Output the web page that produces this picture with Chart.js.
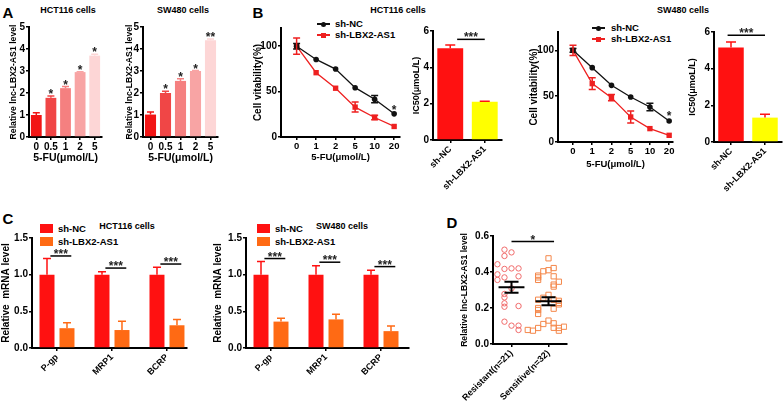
<!DOCTYPE html>
<html>
<head>
<meta charset="utf-8">
<script src="https://cdn.jsdelivr.net/npm/chart.js@4.4.1/dist/chart.umd.min.js"></script>
<style>
  body { margin: 0; background: #fff; }
  #fig { position: relative; width: 784px; height: 406px; overflow: hidden;
         font-family: "Liberation Sans", Arial, sans-serif; font-weight: bold; color: #000; }
  #fig canvas { position: absolute; }
  .t { position: absolute; white-space: nowrap; transform: translate(-50%, -50%); font-size: 9px; line-height: 1; }
  .letter { font-size: 15px; }
  .lg { position: absolute; white-space: nowrap; font-size: 9.5px; line-height: 1; transform: translateY(-50%); }
  .mk { position: absolute; }
</style>
</head>
<body>
<div id="fig">
  <div class="t letter" style="left:8px;top:12px">A</div>
  <div class="t" style="left:68px;top:10px">HCT116 cells</div>
  <div class="t" style="left:183px;top:10px">SW480 cells</div>
  <div class="t letter" style="left:258px;top:12px">B</div>
  <div class="t" style="left:398px;top:10px">HCT116 cells</div>
  <div class="t" style="left:683px;top:10px">SW480 cells</div>
  <div class="t letter" style="left:8px;top:218px">C</div>
  <div class="t" style="left:127px;top:226px">HCT116 cells</div>
  <div class="t" style="left:342px;top:226px">SW480 cells</div>
  <div class="t letter" style="left:452px;top:222px">D</div>

  <!-- B legends -->
  <div class="mk" style="left:317px;top:23.25px;width:13px;height:1.5px;background:#111"></div>
  <div class="mk" style="left:321px;top:21.5px;width:5px;height:5px;border-radius:50%;background:#111"></div>
  <div class="lg" style="left:335px;top:24px">sh-NC</div>
  <div class="mk" style="left:317px;top:34.25px;width:13px;height:1.5px;background:#ee2020"></div>
  <div class="mk" style="left:321px;top:32.5px;width:5px;height:5px;background:#ee2020"></div>
  <div class="lg" style="left:335px;top:35px">sh-LBX2-AS1</div>

  <div class="mk" style="left:592px;top:27.25px;width:13px;height:1.5px;background:#111"></div>
  <div class="mk" style="left:596px;top:25.5px;width:5px;height:5px;border-radius:50%;background:#111"></div>
  <div class="lg" style="left:611px;top:28px">sh-NC</div>
  <div class="mk" style="left:592px;top:38.25px;width:13px;height:1.5px;background:#ee2020"></div>
  <div class="mk" style="left:596px;top:36.5px;width:5px;height:5px;background:#ee2020"></div>
  <div class="lg" style="left:611px;top:39px">sh-LBX2-AS1</div>

  <!-- C legends -->
  <div class="mk" style="left:40px;top:224px;width:13px;height:9px;background:#ff1111"></div>
  <div class="lg" style="left:58px;top:228.5px">sh-NC</div>
  <div class="mk" style="left:40px;top:237px;width:13px;height:9px;background:#ff6a14"></div>
  <div class="lg" style="left:58px;top:241.5px">sh-LBX2-AS1</div>
  <div class="mk" style="left:257px;top:224px;width:13px;height:9px;background:#ff1111"></div>
  <div class="lg" style="left:275px;top:228.5px">sh-NC</div>
  <div class="mk" style="left:257px;top:237px;width:13px;height:9px;background:#ff6a14"></div>
  <div class="lg" style="left:275px;top:241.5px">sh-LBX2-AS1</div>

  <canvas id="a1"></canvas>
  <canvas id="a2"></canvas>
  <canvas id="b1"></canvas>
  <canvas id="b1ic"></canvas>
  <canvas id="b2"></canvas>
  <canvas id="b2ic"></canvas>
  <canvas id="c1"></canvas>
  <canvas id="c2"></canvas>
  <canvas id="d"></canvas>
</div>

<script>
const FONT = '"Liberation Sans", Arial, sans-serif';

// ---- A: lnc-LBX2-AS1 level vs 5-FU dose ----
const doseA = ['0', '0.5', '1', '2', '5'];
const hctLevel = [1.0, 1.78, 2.22, 2.95, 3.7];
const hctLevelErr = [0.1, 0.08, 0.07, 0.02, 0.06];
const hctStars = ['', '*', '*', '*', '*'];
const swLevel = [1.02, 2.0, 2.55, 3.0, 4.4];
const swLevelErr = [0.12, 0.08, 0.1, 0.02, 0.05];
const swStars = ['', '*', '*', '*', '**'];
const doseColors = ['#f21515', '#f04646', '#f58080', '#f8a4a4', '#fdd6d6'];

// ---- B: cell viability and IC50 ----
const doseB = ['0', '1', '2', '5', '10', '20'];
const hctNC = [100, 85.4, 74.8, 54.3, 41.6, 25.5];
const hctNCErr = [3, 0, 0, 0, 4, 0];
const hctKD = [100, 70.8, 53.7, 32.9, 21.5, 11.6];
const hctKDErr = [9, 0, 0, 5.5, 2.5, 0];
const swNC = [100, 81.1, 61.8, 49.1, 38.2, 22.9];
const swNCErr = [2, 0, 0, 0, 4, 0];
const swKD = [100, 63.7, 48.4, 27.3, 14.6, 7.3];
const swKDErr = [5.5, 6.5, 3.5, 6.5, 0, 0];
const groups = ['sh-NC', 'sh-LBX2-AS1'];
const hctIC50 = [5.05, 2.1];
const hctIC50Err = [0.18, 0.03];
const swIC50 = [5.15, 1.33];
const swIC50Err = [0.3, 0.18];

// ---- C: drug resistance genes ----
const genes = ['P-gp', 'MRP1', 'BCRP'];
const hctMdrNC = [1.0, 1.0, 1.0];
const hctMdrNCErr = [0.22, 0.04, 0.1];
const hctMdrKD = [0.27, 0.245, 0.31];
const hctMdrKDErr = [0.075, 0.12, 0.08];
const hctSig = [1.255, 1.09, 1.145];
const swMdrNC = [1.0, 1.0, 1.0];
const swMdrNCErr = [0.18, 0.12, 0.06];
const swMdrKD = [0.36, 0.39, 0.23];
const swMdrKDErr = [0.045, 0.07, 0.07];
const swSig = [1.22, 1.17, 1.11];

// ---- D: patient samples ----
const dGroups = ['Resistant(n=21)', 'Sensitive(n=32)'];
const resistant = [0.509, 0.489, 0.524, 0.42, 0.417, 0.42, 0.443, 0.387, 0.37, 0.376, 0.356,
  0.309, 0.278, 0.259, 0.226, 0.207, 0.211, 0.102, 0.124, 0.102, 0.078];
const sensitive = [0.476, 0.41, 0.404, 0.422, 0.376, 0.38, 0.37, 0.356, 0.346, 0.33, 0.319,
  0.273, 0.257, 0.246, 0.246, 0.24, 0.228, 0.22, 0.196, 0.2, 0.189, 0.167, 0.13, 0.111,
  0.115, 0.09, 0.089, 0.089, 0.096, 0.074, 0.074, 0.078];

const RED = '#ff1111', ORANGE = '#ff6a14', YELLOW = '#ffff00', LRED = '#ee2020', BLACK = '#111';

// error bars, drawn from dataset.errors
const errorBars = {
  id: 'errorBars',
  afterDatasetsDraw(chart) {
    const ctx = chart.ctx, y = chart.scales.y;
    chart.data.datasets.forEach((ds, di) => {
      if (!ds.errors) return;
      chart.getDatasetMeta(di).data.forEach((el, i) => {
        const e = ds.errors[i];
        if (!e) return;
        const raw = ds.data[i];
        const v = typeof raw === 'number' ? raw : raw.y;
        const top = y.getPixelForValue(v + e);
        const bot = ds.oneSided ? el.y : y.getPixelForValue(v - e);
        const half = ds.capWidth / 2;
        ctx.save();
        ctx.strokeStyle = ds.errorColor || (Array.isArray(ds.backgroundColor) ? ds.backgroundColor[i] : ds.borderColor);
        ctx.lineWidth = 1.5;
        ctx.beginPath();
        ctx.moveTo(el.x, bot); ctx.lineTo(el.x, top);
        ctx.moveTo(el.x - half, top); ctx.lineTo(el.x + half, top);
        if (!ds.oneSided) { ctx.moveTo(el.x - half, bot); ctx.lineTo(el.x + half, bot); }
        ctx.stroke();
        ctx.restore();
      });
    });
  }
};

// significance stars / bars
function sigMarks(marks) {
  return {
    id: 'sigMarks',
    afterDatasetsDraw(chart) {
      const {ctx, scales: {x, y}} = chart;
      ctx.save();
      ctx.fillStyle = '#222';
      ctx.strokeStyle = '#000';
      ctx.lineWidth = 1.5;
      ctx.font = 'bold 12px ' + FONT;
      ctx.textAlign = 'center';
      ctx.textBaseline = 'alphabetic';
      marks.forEach(m => {
        if (!m.text) return;
        const py = y.getPixelForValue(m.y);
        let px = x.getPixelForValue(m.x1);
        if (m.x2 !== undefined) {
          const px2 = x.getPixelForValue(m.x2);
          ctx.beginPath(); ctx.moveTo(px, py); ctx.lineTo(px2, py); ctx.stroke();
          px = (px + px2) / 2;
        }
        ctx.fillText(m.text, px, py + 2);
      });
      ctx.restore();
    }
  };
}

function meanSem(vals) {
  const n = vals.length;
  const mean = vals.reduce((s, v) => s + v, 0) / n;
  const sd = Math.sqrt(vals.reduce((s, v) => s + (v - mean) ** 2, 0) / (n - 1));
  return {mean, sem: sd / Math.sqrt(n)};
}

// mean +/- SEM lines for the scatter
const dSummary = {
  id: 'dSummary',
  afterDatasetsDraw(chart) {
    const {ctx, scales: {x, y}} = chart;
    ctx.save();
    ctx.strokeStyle = '#000';
    ctx.lineWidth = 2;
    [resistant, sensitive].forEach((vals, i) => {
      const {mean, sem} = meanSem(vals);
      const cx = x.getPixelForValue(i);
      const wm = x.getPixelForValue(i + 0.35) - cx;
      const wc = x.getPixelForValue(i + 0.19) - cx;
      const ym = y.getPixelForValue(mean), yt = y.getPixelForValue(mean + sem), yb = y.getPixelForValue(mean - sem);
      ctx.beginPath();
      ctx.moveTo(cx - wm, ym); ctx.lineTo(cx + wm, ym);
      ctx.moveTo(cx, yt); ctx.lineTo(cx, yb);
      ctx.moveTo(cx - wc, yt); ctx.lineTo(cx + wc, yt);
      ctx.moveTo(cx - wc, yb); ctx.lineTo(cx + wc, yb);
      ctx.stroke();
    });
    ctx.restore();
  }
};

// spread points of similar value sideways, like a column scatter
function jitter(vals, step) {
  return vals.map((v, i) => {
    const near = vals.slice(0, i).filter(w => Math.abs(w - v) < 0.035).length;
    return Math.ceil(near / 2) * (near % 2 ? -1 : 1) * step;
  });
}

function mount(id, box, m) {
  const c = document.getElementById(id);
  const w = box[2] - box[0] + m.left + m.right;
  const h = box[3] - box[1] + m.top + m.bottom;
  c.width = w; c.height = h;
  c.style.left = (box[0] - m.left) + 'px';
  c.style.top = (box[1] - m.top) + 'px';
  c.style.width = w + 'px';
  c.style.height = h + 'px';
  return c;
}

function yAxis(m, max, ticks, digits, title, size) {
  return {
    type: 'linear', min: 0, max,
    afterBuildTicks: s => { s.ticks = ticks.map(v => ({value: v})); },
    afterFit: s => { s.width = m.left; s.paddingTop = 0; s.paddingBottom = 0; },
    border: {color: '#000', width: 2},
    grid: {drawOnChartArea: false, color: '#000', lineWidth: 1.5, tickLength: 3},
    ticks: {color: '#000', padding: 1, font: {family: FONT, weight: 'bold', size: 10},
      callback: v => v.toFixed(digits)},
    title: {display: true, text: title, color: '#000',
      font: {family: FONT, weight: 'bold', size: size || 10}, padding: {top: m.ty, bottom: 0}}
  };
}

function xAxis(m, opt) {
  const rot = opt.rotate || 0;
  const s = {
    type: opt.type || 'category',
    offset: opt.type !== 'linear',
    afterFit: sc => { sc.height = m.bottom; sc.paddingLeft = 0; sc.paddingRight = 0; },
    border: {color: '#000', width: 2},
    grid: {drawOnChartArea: false, offset: false, color: '#000', lineWidth: 1.5, tickLength: 3},
    ticks: {color: '#000', padding: opt.tickPad || 1, autoSkip: false, minRotation: rot, maxRotation: rot,
      font: {family: FONT, weight: 'bold', size: opt.tickSize || 9.5}},
    title: opt.title
      ? {display: true, text: opt.title, color: '#000', font: {family: FONT, weight: 'bold', size: opt.titleSize || 9.5},
         padding: {top: 0, bottom: m.tx}}
      : {display: false}
  };
  if (opt.type === 'linear') {
    s.min = opt.min; s.max = opt.max;
    s.afterBuildTicks = sc => { sc.ticks = opt.names.map((_, i) => ({value: i})); };
    s.ticks.callback = v => opt.names[v];
  }
  return s;
}

function build(id, box, m, type, data, scales, plugins) {
  return new Chart(mount(id, box, m), {
    type, data,
    options: {
      responsive: false, animation: false, devicePixelRatio: 1,
      layout: {padding: {top: m.top, right: m.right, left: 0, bottom: 0}},
      plugins: {legend: {display: false}, tooltip: {enabled: false}},
      scales
    },
    plugins
  });
}

// ---------- A ----------
function levelChart(id, box, m, vals, errs, stars) {
  build(id, box, m, 'bar', {
    labels: doseA,
    datasets: [{data: vals, backgroundColor: doseColors, errors: errs, oneSided: true, capWidth: 7,
      barPercentage: 0.74, categoryPercentage: 1}]
  }, {
    x: xAxis(m, {title: '5-FU(\u03bcmol/L)', tickSize: 10, titleSize: 10.5}),
    y: yAxis(m, 5, [0, 1, 2, 3, 4, 5], 0, 'Relative lnc-LBX2-AS1 level', 8.7)
  }, [errorBars, sigMarks(doseA.map((_, i) => ({x1: i, y: vals[i] + errs[i], text: stars[i]})))]);
}
levelChart('a1', [29, 27, 102, 137], {left: 29, top: 10, right: 4, bottom: 30, ty: 8.8, tx: 2.7},
  hctLevel, hctLevelErr, hctStars);
levelChart('a2', [143, 27, 218, 137], {left: 23, top: 10, right: 4, bottom: 30, ty: 4.8, tx: 2.7},
  swLevel, swLevelErr, swStars);

// ---------- B ----------
function viabilityChart(id, box, m, nc, ncErr, kd, kdErr, starY) {
  build(id, box, m, 'line', {
    datasets: [
      {data: doseB.map((_, i) => ({x: i, y: nc[i]})), errors: ncErr, capWidth: 7,
        borderColor: BLACK, backgroundColor: BLACK, borderWidth: 1.3,
        pointStyle: 'circle', pointRadius: 2.8, pointBorderWidth: 0},
      {data: doseB.map((_, i) => ({x: i, y: kd[i]})), errors: kdErr, capWidth: 7,
        borderColor: LRED, backgroundColor: LRED, borderWidth: 1.3,
        pointStyle: 'rect', pointRadius: 3.8, pointBorderWidth: 0}
    ]
  }, {
    x: xAxis(m, {type: 'linear', min: m.xmin, max: m.xmax, names: doseB, title: '5-FU(\u03bcmol/L)'}),
    y: yAxis(m, 120, [0, 50, 100], 0, 'Cell vitability(%)', 10)
  }, [errorBars, sigMarks([{x1: doseB.length - 1, y: starY, text: '*'}])]);
}
viabilityChart('b1', [281, 28, 400, 137],
  {left: 33, top: 10, right: 8, bottom: 30, ty: 4, tx: 4.3, xmin: -0.8, xmax: 5.3},
  hctNC, hctNCErr, hctKD, hctKDErr, hctNC[5] + 2);
viabilityChart('b2', [558, 32, 673, 142],
  {left: 34, top: 10, right: 8, bottom: 32, ty: 4, tx: 4.3, xmin: -0.78, xmax: 5.2},
  swNC, swNCErr, swKD, swKDErr, swNC[5] + 3);

function ic50Chart(id, box, m, vals, errs, sig) {
  build(id, box, m, 'bar', {
    labels: groups,
    datasets: [{data: vals, backgroundColor: [RED, YELLOW], errorColor: RED, errors: errs, oneSided: true,
      capWidth: 10, barPercentage: 0.75, categoryPercentage: 1}]
  }, {
    x: xAxis(m, {rotate: 45, tickSize: 9}),
    y: yAxis(m, 6, [0, 2, 4, 6], 0, 'IC50(\u03bcmoL/L)', 9)
  }, [errorBars, sigMarks([sig])]);
}
ic50Chart('b1ic', [433, 31, 502, 140], {left: 25, top: 10, right: 6, bottom: 60, ty: 3.6},
  hctIC50, hctIC50Err, {x1: 0.2, x2: 1, y: 5.54, text: '***'});
ic50Chart('b2ic', [714, 32, 782, 142], {left: 30, top: 10, right: 2, bottom: 60, ty: 3.6},
  swIC50, swIC50Err, {x1: -0.1, x2: 1, y: 5.82, text: '***'});

// ---------- C ----------
function mdrChart(id, box, m, nc, ncErr, kd, kdErr, sig) {
  const bar = {categoryPercentage: 0.727, barPercentage: 0.75, oneSided: true, capWidth: 8};
  build(id, box, m, 'bar', {
    datasets: [
      Object.assign({label: groups[0], data: genes.map((_, i) => ({x: i, y: nc[i]})), errors: ncErr,
        backgroundColor: RED, errorColor: RED}, bar),
      Object.assign({label: groups[1], data: genes.map((_, i) => ({x: i, y: kd[i]})), errors: kdErr,
        backgroundColor: ORANGE, errorColor: ORANGE}, bar)
    ]
  }, {
    x: xAxis(m, {type: 'linear', min: m.xmin, max: m.xmax, names: genes, rotate: 45, tickSize: 9}),
    y: yAxis(m, 1.5, [0, 0.5, 1, 1.5], 1, 'Relative  mRNA level', 10)
  }, [errorBars, sigMarks(genes.map((_, i) => ({x1: i - 0.12, x2: i + 0.26, y: sig[i], text: '***'})))]);
}
mdrChart('c1', [32, 238, 187, 348],
  {left: 32, top: 10, right: 6, bottom: 50, ty: 0, xmin: -0.4545, xmax: 2.364},
  hctMdrNC, hctMdrNCErr, hctMdrKD, hctMdrKDErr, hctSig);
mdrChart('c2', [246, 238, 409, 348],
  {left: 36, top: 10, right: 6, bottom: 50, ty: 2, xmin: -0.4545, xmax: 2.509},
  swMdrNC, swMdrNCErr, swMdrKD, swMdrKDErr, swSig);

// ---------- D ----------
const jr = jitter(resistant, 0.19);
const js = jitter(sensitive, 0.14);
build('d', [493, 236, 567, 344], {left: 38, top: 10, right: 6, bottom: 62, ty: 4.8}, 'scatter', {
  datasets: [
    {data: resistant.map((v, i) => ({x: 0 + jr[i], y: v})), pointStyle: 'circle', pointRadius: 2.7,
      borderColor: '#f06a6a', backgroundColor: 'rgba(0,0,0,0)', borderWidth: 1},
    {data: sensitive.map((v, i) => ({x: 1 + js[i], y: v})), pointStyle: 'rect', pointRadius: 3.7,
      borderColor: '#f4874a', backgroundColor: 'rgba(0,0,0,0)', borderWidth: 1}
  ]
}, {
  x: xAxis({bottom: 62}, {type: 'linear', min: -0.5, max: 1.5, names: dGroups, rotate: 45, tickSize: 9}),
  y: yAxis({left: 38, ty: 4.8}, 0.6, [0, 0.2, 0.4, 0.6], 1, 'Relative lnc-LBX2-AS1 level', 8.6)
}, [dSummary, sigMarks([{x1: 0, x2: 1.15, y: 0.569, text: '*'}])]);
</script>
</body>
</html>
